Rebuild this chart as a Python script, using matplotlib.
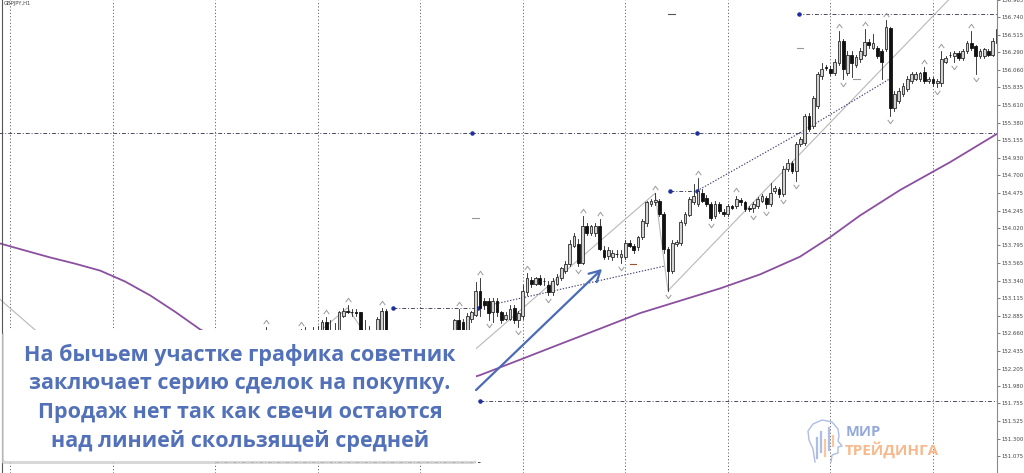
import numpy as np
import matplotlib.pyplot as plt
from matplotlib.patches import Rectangle, FancyBboxPatch, FancyArrowPatch
from matplotlib.lines import Line2D
from matplotlib.path import Path

W, H = 1024, 473

# GBPJPY H1 candles, index counted in hours from the first day line
bar_idx = list(range(60, 232))
opens = [152.57, 152.62, 152.54, 152.50, 152.57, 152.52, 152.60, 152.54, 152.62, 152.66,
         152.60, 152.63, 152.66, 152.63, 152.81, 152.63, 152.67, 152.63, 152.89, 152.95,
         152.94, 152.93, 152.93, 152.67, 152.62, 152.58, 152.63, 152.63, 152.95, 152.63,
         152.55, 152.58, 152.52, 152.45, 152.50, 152.56, 152.52, 152.47, 152.40, 152.46,
         152.52, 152.57, 152.60, 152.55, 152.63, 152.83, 152.80, 152.70, 152.85, 152.90,
         153.21, 153.08, 153.08, 152.93, 153.08, 152.93, 152.85, 152.85, 152.99, 152.83,
         152.89, 153.19, 153.35, 153.30, 153.38, 153.34, 153.29, 153.19, 153.30, 153.38,
         153.47, 153.56, 153.79, 153.82, 153.57, 154.05, 153.96, 153.95, 154.05, 153.74,
         153.66, 153.65, 153.69, 153.64, 153.65, 153.83, 153.79, 153.77, 153.91, 154.08,
         154.33, 154.35, 154.37, 154.20, 153.75, 153.47, 153.82, 153.83, 154.09, 154.19,
         154.36, 154.33, 154.47, 154.41, 154.33, 154.18, 154.33, 154.23, 154.20, 154.30,
         154.31, 154.38, 154.35, 154.28, 154.28, 154.31, 154.37, 154.41, 154.33, 154.50,
         154.53, 154.46, 154.78, 154.86, 154.76, 155.10, 155.12, 155.47, 155.34, 155.60,
         155.98, 156.10, 156.08, 156.02, 156.15, 156.43, 156.02, 156.26, 156.12, 156.20,
         156.26, 156.42, 156.35, 156.34, 156.30, 156.33, 156.60, 155.57, 155.66, 155.75,
         155.81, 155.92, 155.95, 155.94, 156.04, 155.92, 155.94, 155.89, 155.89, 156.17,
         156.26, 156.24, 156.28, 156.21, 156.30, 156.41, 156.37, 156.24, 156.24, 156.30,
         156.26, 156.41]
highs = [152.74, 152.66, 152.63, 152.60, 152.65, 152.62, 152.66, 152.65, 152.72, 152.74,
         152.70, 152.74, 152.75, 152.83, 152.87, 152.83, 152.79, 152.95, 152.99, 153.02,
         152.98, 152.97, 152.94, 152.83, 152.75, 152.67, 152.87, 152.99, 152.97, 152.66,
         152.62, 152.65, 152.58, 152.55, 152.60, 152.64, 152.60, 152.55, 152.50, 152.56,
         152.60, 152.66, 152.67, 152.66, 152.85, 152.98, 152.85, 152.92, 152.95, 153.32,
         153.38, 153.12, 153.11, 153.12, 153.11, 152.95, 152.94, 153.02, 153.02, 152.95,
         153.28, 153.44, 153.39, 153.39, 153.41, 153.38, 153.33, 153.37, 153.42, 153.52,
         153.60, 153.86, 153.96, 153.88, 154.18, 154.09, 154.06, 154.09, 154.14, 153.79,
         153.77, 153.74, 153.73, 153.73, 153.86, 153.86, 153.82, 153.92, 154.14, 154.37,
         154.40, 154.47, 154.40, 154.23, 153.78, 153.86, 153.87, 154.13, 154.23, 154.42,
         154.59, 154.67, 154.53, 154.45, 154.36, 154.37, 154.36, 154.27, 154.33, 154.32,
         154.44, 154.41, 154.37, 154.31, 154.36, 154.42, 154.46, 154.44, 154.60, 154.56,
         154.55, 154.82, 154.91, 154.89, 155.13, 155.20, 155.49, 155.50, 155.72, 156.04,
         156.15, 156.12, 156.11, 156.20, 156.56, 156.46, 156.30, 156.30, 156.26, 156.34,
         156.59, 156.46, 156.52, 156.37, 156.33, 156.71, 156.62, 155.79, 155.83, 155.89,
         155.98, 156.03, 156.04, 156.04, 156.10, 155.97, 155.97, 155.94, 156.30, 156.24,
         156.29, 156.30, 156.30, 156.33, 156.43, 156.56, 156.39, 156.33, 156.35, 156.33,
         156.48, 156.66]
lows = [152.44, 152.47, 152.41, 152.38, 152.44, 152.41, 152.47, 152.44, 152.50, 152.54,
        152.52, 152.55, 152.57, 152.60, 152.58, 152.55, 152.57, 152.60, 152.87, 152.92,
        152.89, 152.88, 152.62, 152.55, 152.52, 152.50, 152.58, 152.58, 152.60, 152.50,
        152.45, 152.48, 152.40, 152.38, 152.44, 152.48, 152.42, 152.36, 152.32, 152.40,
        152.45, 152.50, 152.52, 152.48, 152.58, 152.58, 152.60, 152.62, 152.80, 152.88,
        152.89, 152.98, 152.83, 152.80, 152.89, 152.79, 152.83, 152.83, 152.79, 152.74,
        152.85, 153.16, 153.26, 153.28, 153.28, 153.29, 153.15, 153.16, 153.28, 153.35,
        153.44, 153.53, 153.77, 153.53, 153.55, 153.93, 153.93, 153.92, 153.73, 153.62,
        153.62, 153.61, 153.64, 153.57, 153.62, 153.77, 153.70, 153.74, 153.88, 154.05,
        154.31, 154.32, 154.18, 153.70, 153.21, 153.44, 153.79, 153.80, 154.06, 154.17,
        154.33, 154.31, 154.35, 154.31, 154.13, 154.15, 154.22, 154.18, 154.18, 154.26,
        154.28, 154.32, 154.24, 154.24, 154.23, 154.28, 154.35, 154.28, 154.31, 154.47,
        154.42, 154.44, 154.76, 154.73, 154.63, 155.08, 155.09, 155.27, 155.31, 155.57,
        155.95, 156.06, 155.99, 155.99, 156.12, 155.94, 155.99, 155.97, 156.10, 156.17,
        156.24, 156.35, 156.33, 156.21, 155.95, 156.30, 155.47, 155.53, 155.63, 155.72,
        155.79, 155.89, 155.93, 155.92, 155.89, 155.89, 155.85, 155.84, 155.86, 156.15,
        156.23, 156.17, 156.19, 156.19, 156.28, 156.32, 156.01, 156.21, 156.21, 156.24,
        156.24, 156.38]
closes = [152.62, 152.54, 152.50, 152.57, 152.52, 152.60, 152.54, 152.62, 152.66, 152.60,
          152.63, 152.66, 152.69, 152.80, 152.63, 152.67, 152.63, 152.93, 152.95, 152.94,
          152.93, 152.92, 152.67, 152.62, 152.58, 152.63, 152.85, 152.95, 152.63, 152.55,
          152.58, 152.52, 152.45, 152.50, 152.56, 152.52, 152.47, 152.40, 152.46, 152.52,
          152.57, 152.60, 152.55, 152.62, 152.83, 152.63, 152.67, 152.89, 152.93, 153.21,
          152.99, 153.03, 152.92, 153.08, 152.93, 152.83, 152.90, 152.98, 152.83, 152.92,
          153.21, 153.37, 153.30, 153.37, 153.30, 153.33, 153.19, 153.34, 153.39, 153.50,
          153.56, 153.82, 153.92, 153.57, 154.05, 153.96, 154.04, 154.05, 153.75, 153.65,
          153.73, 153.70, 153.68, 153.69, 153.83, 153.79, 153.73, 153.90, 154.11, 154.35,
          154.37, 154.38, 154.20, 153.75, 153.47, 153.83, 153.84, 154.10, 154.20, 154.40,
          154.44, 154.50, 154.37, 154.33, 154.15, 154.33, 154.24, 154.20, 154.31, 154.28,
          154.40, 154.36, 154.27, 154.27, 154.33, 154.40, 154.44, 154.33, 154.47, 154.54,
          154.46, 154.78, 154.86, 154.76, 155.10, 155.17, 155.47, 155.30, 155.70, 156.01,
          156.08, 156.09, 156.02, 156.17, 156.43, 156.07, 156.26, 156.15, 156.23, 156.30,
          156.42, 156.38, 156.41, 156.24, 156.17, 156.62, 155.57, 155.75, 155.79, 155.85,
          155.94, 156.01, 156.01, 156.02, 155.92, 155.94, 155.89, 155.92, 156.20, 156.21,
          156.25, 156.28, 156.21, 156.30, 156.41, 156.34, 156.24, 156.30, 156.33, 156.26,
          156.43, 156.59]

# moving average (purple)
ma_idx = [-2.3, 3.5, 9.4, 15.2, 21.1, 26.9, 32.8, 38.6, 44.5, 56, 70, 85, 98, 110, 119.4, 128.7,
          138.1, 147.4, 156.8, 166.2, 175.5, 184.9, 191.9, 198.9, 208.3, 220, 231.7]
ma_vals = [153.82, 153.73, 153.64, 153.56, 153.47, 153.33, 153.15, 152.94, 152.71, 152.40, 152.12,
           151.92, 151.92, 152.12, 152.32, 152.52, 152.72, 152.92, 153.08, 153.24, 153.42, 153.65,
           153.90, 154.18, 154.51, 154.87, 155.26]

# zigzag (thin grey)
zz_idx = [-3, 12, 40, 70, 79, 85, 108, 151, 154, 222]
zz_vals = [153.13, 152.41, 152.63, 152.57, 152.99, 152.50, 152.41, 154.47, 153.21, 157.10]

# fractals
frac_up = [60, 68, 74, 79, 87, 105, 110, 121, 134, 138, 151, 161, 170, 194, 200, 205, 214, 218, 225]
frac_dn = [112, 119, 126, 133, 143, 154, 164, 174, 177, 181, 184, 195, 206, 217, 221, 226]

# order levels (dash-dot) and trade connectors (dotted)
lvl_price = [155.25, 156.78, 151.78, 152.99, 154.50, 151.00]
lvl_from = [-3, 184.2, 110, 89.6, 154.5, 48]
lvl_to = [232, 232, 232, 110, 160.8, 110]
mark_idx = [89.6, 109.5, 110, 108.1, 160.8, 154.5, 160.8, 184.7]
mark_price = [152.99, 152.99, 151.78, 155.25, 155.25, 154.50, 154.50, 156.78]
trade_i0 = [109.5, 160.8, 184.9]
trade_p0 = [152.99, 154.50, 155.25]
trade_i1 = [153.3, 184.9, 206.0]
trade_p1 = [153.53, 155.25, 155.95]
dash_idx = [109.0, 145.8, 154.9, 184.9, 198.2]
dash_price = [154.15, 153.55, 156.79, 156.34, 155.95]
dash_color = ['#999999', '#a0522d', '#555555', '#999999', '#999999']

tick_vals = [156.965, 156.740, 156.515, 156.290, 156.060, 155.835, 155.610, 155.380, 155.155,
             154.930, 154.700, 154.475, 154.245, 154.020, 153.795, 153.565, 153.340, 153.115,
             152.885, 152.660, 152.435, 152.205, 151.980, 151.755, 151.525, 151.300, 151.075]

text_lines = ["На бычьем участке графика советник",
              "заключает серию сделок на покупку.",
              "Продаж нет так как свечи остаются",
              "над линией скользящей средней"]


def fx(x):
    return x / W


def fy(y):
    return 1 - y / H


fig = plt.figure(figsize=(W / 100, H / 100), dpi=100)
ax = fig.add_axes([0, 0, 997 / W, 1])
ax.set_xlim(-2.34, 231.0)
ax.set_ylim(150.856, 156.946)

# day separators
for d in range(0, 232, 24):
    ax.axvline(d, color='#666666', lw=0.7, ls=(0, (1.2, 2.2)), zorder=1)

ax.plot(ma_idx, ma_vals, color='#8b4f9f', lw=1.3, zorder=2)
ax.plot(zz_idx, zz_vals, color='#b8b8b8', lw=0.8, zorder=2)

for p, a, b in zip(lvl_price, lvl_from, lvl_to):
    ax.plot([a, b], [p, p], color='#4a4a66', lw=0.7, ls=(0, (4, 2, 1, 2)), zorder=2)
for a, p0, b, p1 in zip(trade_i0, trade_p0, trade_i1, trade_p1):
    ax.plot([a, b], [p0, p1], color='#3c3c70', lw=0.8, ls=(0, (1.2, 1.5)), zorder=2)
ax.scatter(mark_idx, mark_price, s=5, color='#1f2f9f', zorder=4)
for i, p, c in zip(dash_idx, dash_price, dash_color):
    ax.plot([i - 0.8, i + 0.8], [p, p], color=c, lw=0.8, zorder=3)

# candles
w = 0.64
for i, o, h, l, c in zip(bar_idx, opens, highs, lows, closes):
    ax.plot([i, i], [l, h], color='#202020', lw=0.6, zorder=3)
    if c >= o:
        ax.add_patch(Rectangle((i - w / 2, o), w, max(c - o, 0.003), facecolor='#d2d2d2',
                               edgecolor='#2a2a2a', lw=0.6, zorder=4))
    else:
        ax.add_patch(Rectangle((i - w / 2, c), w, o - c, facecolor='#111111',
                               edgecolor='#111111', lw=0.6, zorder=4))

up_mark = Path([(-1, -0.6), (0, 0.8), (1, -0.6)], [Path.MOVETO, Path.LINETO, Path.LINETO])
dn_mark = Path([(-1, 0.6), (0, -0.8), (1, 0.6)], [Path.MOVETO, Path.LINETO, Path.LINETO])
pos = {i: k for k, i in enumerate(bar_idx)}
ax.plot(frac_up, [highs[pos[i]] + 0.065 for i in frac_up], ls='none', marker=up_mark,
        ms=4, mfc='none', mec='#9a9a9a', mew=0.7, zorder=5)
ax.plot(frac_dn, [lows[pos[i]] - 0.065 for i in frac_dn], ls='none', marker=dn_mark,
        ms=4, mfc='none', mec='#9a9a9a', mew=0.7, zorder=5)

for s in ['left', 'top', 'bottom']:
    ax.spines[s].set_visible(False)
ax.spines['right'].set_color('#8a8a8a')
ax.spines['right'].set_linewidth(0.8)
ax.set_xticks([])
ax.yaxis.tick_right()
ax.set_yticks(tick_vals)
ax.set_yticklabels(['%.3f' % v for v in tick_vals])
ax.tick_params(axis='y', length=2, width=0.5, pad=1.0, labelsize=3.9, colors='#444444')

fig.add_artist(Line2D([fx(2), fx(2)], [0, 1], transform=fig.transFigure, color='#555555', lw=0.8))
fig.text(fx(4), fy(1), "GBPJPY,H1", fontsize=3.8, color='#444444', va='top', ha='left')

# callout box
fig.add_artist(FancyBboxPatch((fx(2), fy(464)), 474 / W, 131 / H, boxstyle='round,pad=0,rounding_size=0.003',
                              transform=fig.transFigure, fc='#cfcfcf', ec='none', alpha=0.8, zorder=5))
fig.add_artist(FancyBboxPatch((fx(4), fy(461)), 472 / W, 131 / H, boxstyle='round,pad=0,rounding_size=0.003',
                              transform=fig.transFigure, fc='white', ec='none', zorder=6))
for k, t in enumerate(text_lines):
    fig.text(fx(240), fy(355 + 28.7 * k), t, fontsize=15.5, fontweight='bold', family='Open Sans',
             color='#5271b8', ha='center', va='center', zorder=7)

fig.add_artist(FancyArrowPatch((fx(474), fy(392)), (fx(604), fy(267)), transform=fig.transFigure,
                               arrowstyle='->,head_length=0.55,head_width=0.3', mutation_scale=14,
                               color='#4a6bb5', lw=1.6, zorder=7))

# logo
head = [(815, 462), (813, 449), (809, 440), (808, 431), (813, 424), (822, 420), (832, 422),
        (838, 429), (839, 436), (838, 441), (842, 446), (838, 447), (838, 453), (832, 455), (831, 462)]
fig.add_artist(Line2D([fx(p[0]) for p in head], [fy(p[1]) for p in head], transform=fig.transFigure,
                      color='#aebde3', lw=1.0, zorder=7))
for x, y0, y1, c in [(817, 438, 458, '#aebde3'), (821, 432, 452, '#aebde3'), (825, 440, 456, '#f8c7a2'),
                     (829, 428, 450, '#aebde3'), (833, 436, 446, '#f8c7a2')]:
    fig.add_artist(Line2D([fx(x), fx(x)], [fy(y0), fy(y1)], transform=fig.transFigure,
                          color=c, lw=1.6, zorder=7))
fig.text(fx(846), fy(432), "МИР", fontsize=10.5, fontweight='bold', family='Open Sans',
         color='#92a9d9', ha='left', va='center', zorder=7)
fig.text(fx(845), fy(450), "ТРЕЙДИНГА", fontsize=11, fontweight='bold', family='Open Sans',
         color='#f7b98c', ha='left', va='center', zorder=7)

fig.savefig('out.png', dpi=100)
